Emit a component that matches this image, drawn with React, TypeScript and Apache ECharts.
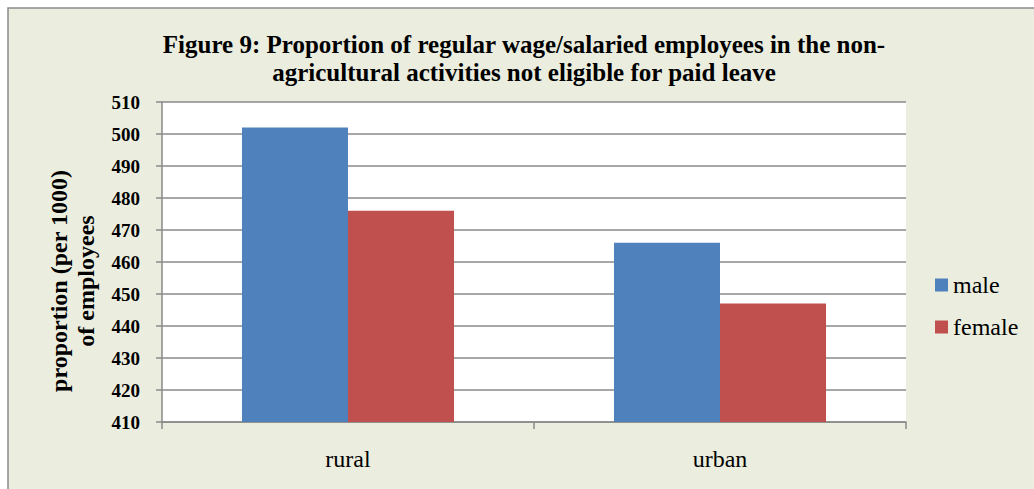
import React, { useEffect, useRef } from "react";
import * as echarts from "echarts";

const categories = ["rural", "urban"];
const maleValues = [502, 466];
const femaleValues = [476, 447];
const seriesNames = ["male", "female"];
const yTicks = { min: 410, max: 510, interval: 10 };
const titleText =
  "Figure 9: Proportion of regular wage/salaried employees in the non-\nagricultural activities not eligible for paid leave";
const yAxisTitle = "proportion (per 1000)\nof employees";

const FONT = "'Liberation Serif', 'Times New Roman', serif";

export default function App() {
  const ref = useRef<HTMLDivElement>(null);
  useEffect(() => {
    if (!ref.current) return;
    const chart = echarts.init(ref.current, null, { renderer: "svg" });
    chart.setOption({
      animation: false,
      backgroundColor: "#ffffff",
      graphic: [
        {
          type: "rect",
          z: -10,
          silent: true,
          shape: { x: 8, y: 8, width: 1100, height: 600 },
          style: { fill: "#EBEEDF", stroke: "#8a8a8a", lineWidth: 1.5 },
        },
        {
          type: "text",
          x: 524,
          y: 30,
          z: 10,
          style: {
            text: titleText,
            textAlign: "center",
            textVerticalAlign: "top",
            fontFamily: FONT,
            fontWeight: "bold",
            fontSize: 25,
            lineHeight: 28,
            fill: "#000",
          },
        },
        {
          type: "text",
          x: 72,
          y: 281,
          rotation: Math.PI / 2,
          z: 10,
          style: {
            text: yAxisTitle,
            textAlign: "center",
            textVerticalAlign: "middle",
            fontFamily: FONT,
            fontWeight: "bold",
            fontSize: 24,
            lineHeight: 27,
            fill: "#000",
          },
        },
      ],
      grid: {
        left: 162,
        right: 128,
        top: 102,
        bottom: 67,
        show: true,
        backgroundColor: "#ffffff",
        borderWidth: 0,
      },
      legend: {
        orient: "vertical",
        left: 930,
        top: 268,
        itemWidth: 13,
        itemHeight: 13,
        itemGap: 18,
        icon: "rect",
        textStyle: { fontFamily: FONT, fontSize: 24, color: "#000" },
        data: seriesNames,
      },
      xAxis: {
        type: "category",
        data: categories,
        axisLine: { lineStyle: { color: "#8a8a8a", width: 1.5 } },
        axisTick: { show: true, length: 7, lineStyle: { color: "#8a8a8a", width: 1.5 } },
        axisLabel: { fontFamily: FONT, fontSize: 24, color: "#000", margin: 25 },
      },
      yAxis: {
        type: "value",
        min: yTicks.min,
        max: yTicks.max,
        interval: yTicks.interval,
        axisLine: { show: true, lineStyle: { color: "#8a8a8a", width: 1.5 } },
        axisTick: { show: true, length: 6, lineStyle: { color: "#8a8a8a", width: 1.5 } },
        splitLine: { lineStyle: { color: "#8a8a8a", width: 1.5 } },
        axisLabel: {
          fontFamily: FONT,
          fontSize: 19,
          fontWeight: "bold",
          color: "#000",
          margin: 22,
        },
      },
      series: [
        {
          name: seriesNames[0],
          type: "bar",
          data: maleValues,
          barGap: "0%",
          barCategoryGap: "43%",
          itemStyle: { color: "#4F81BD" },
        },
        {
          name: seriesNames[1],
          type: "bar",
          data: femaleValues,
          barGap: "0%",
          barCategoryGap: "43%",
          itemStyle: { color: "#C0504D" },
        },
      ],
    });
    return () => chart.dispose();
  }, []);
  return (
    <div style={{ position: "fixed", left: 0, top: 0, width: 1034, height: 489 }}>
      <div ref={ref} style={{ width: 1034, height: 489 }} />
    </div>
  );
}
